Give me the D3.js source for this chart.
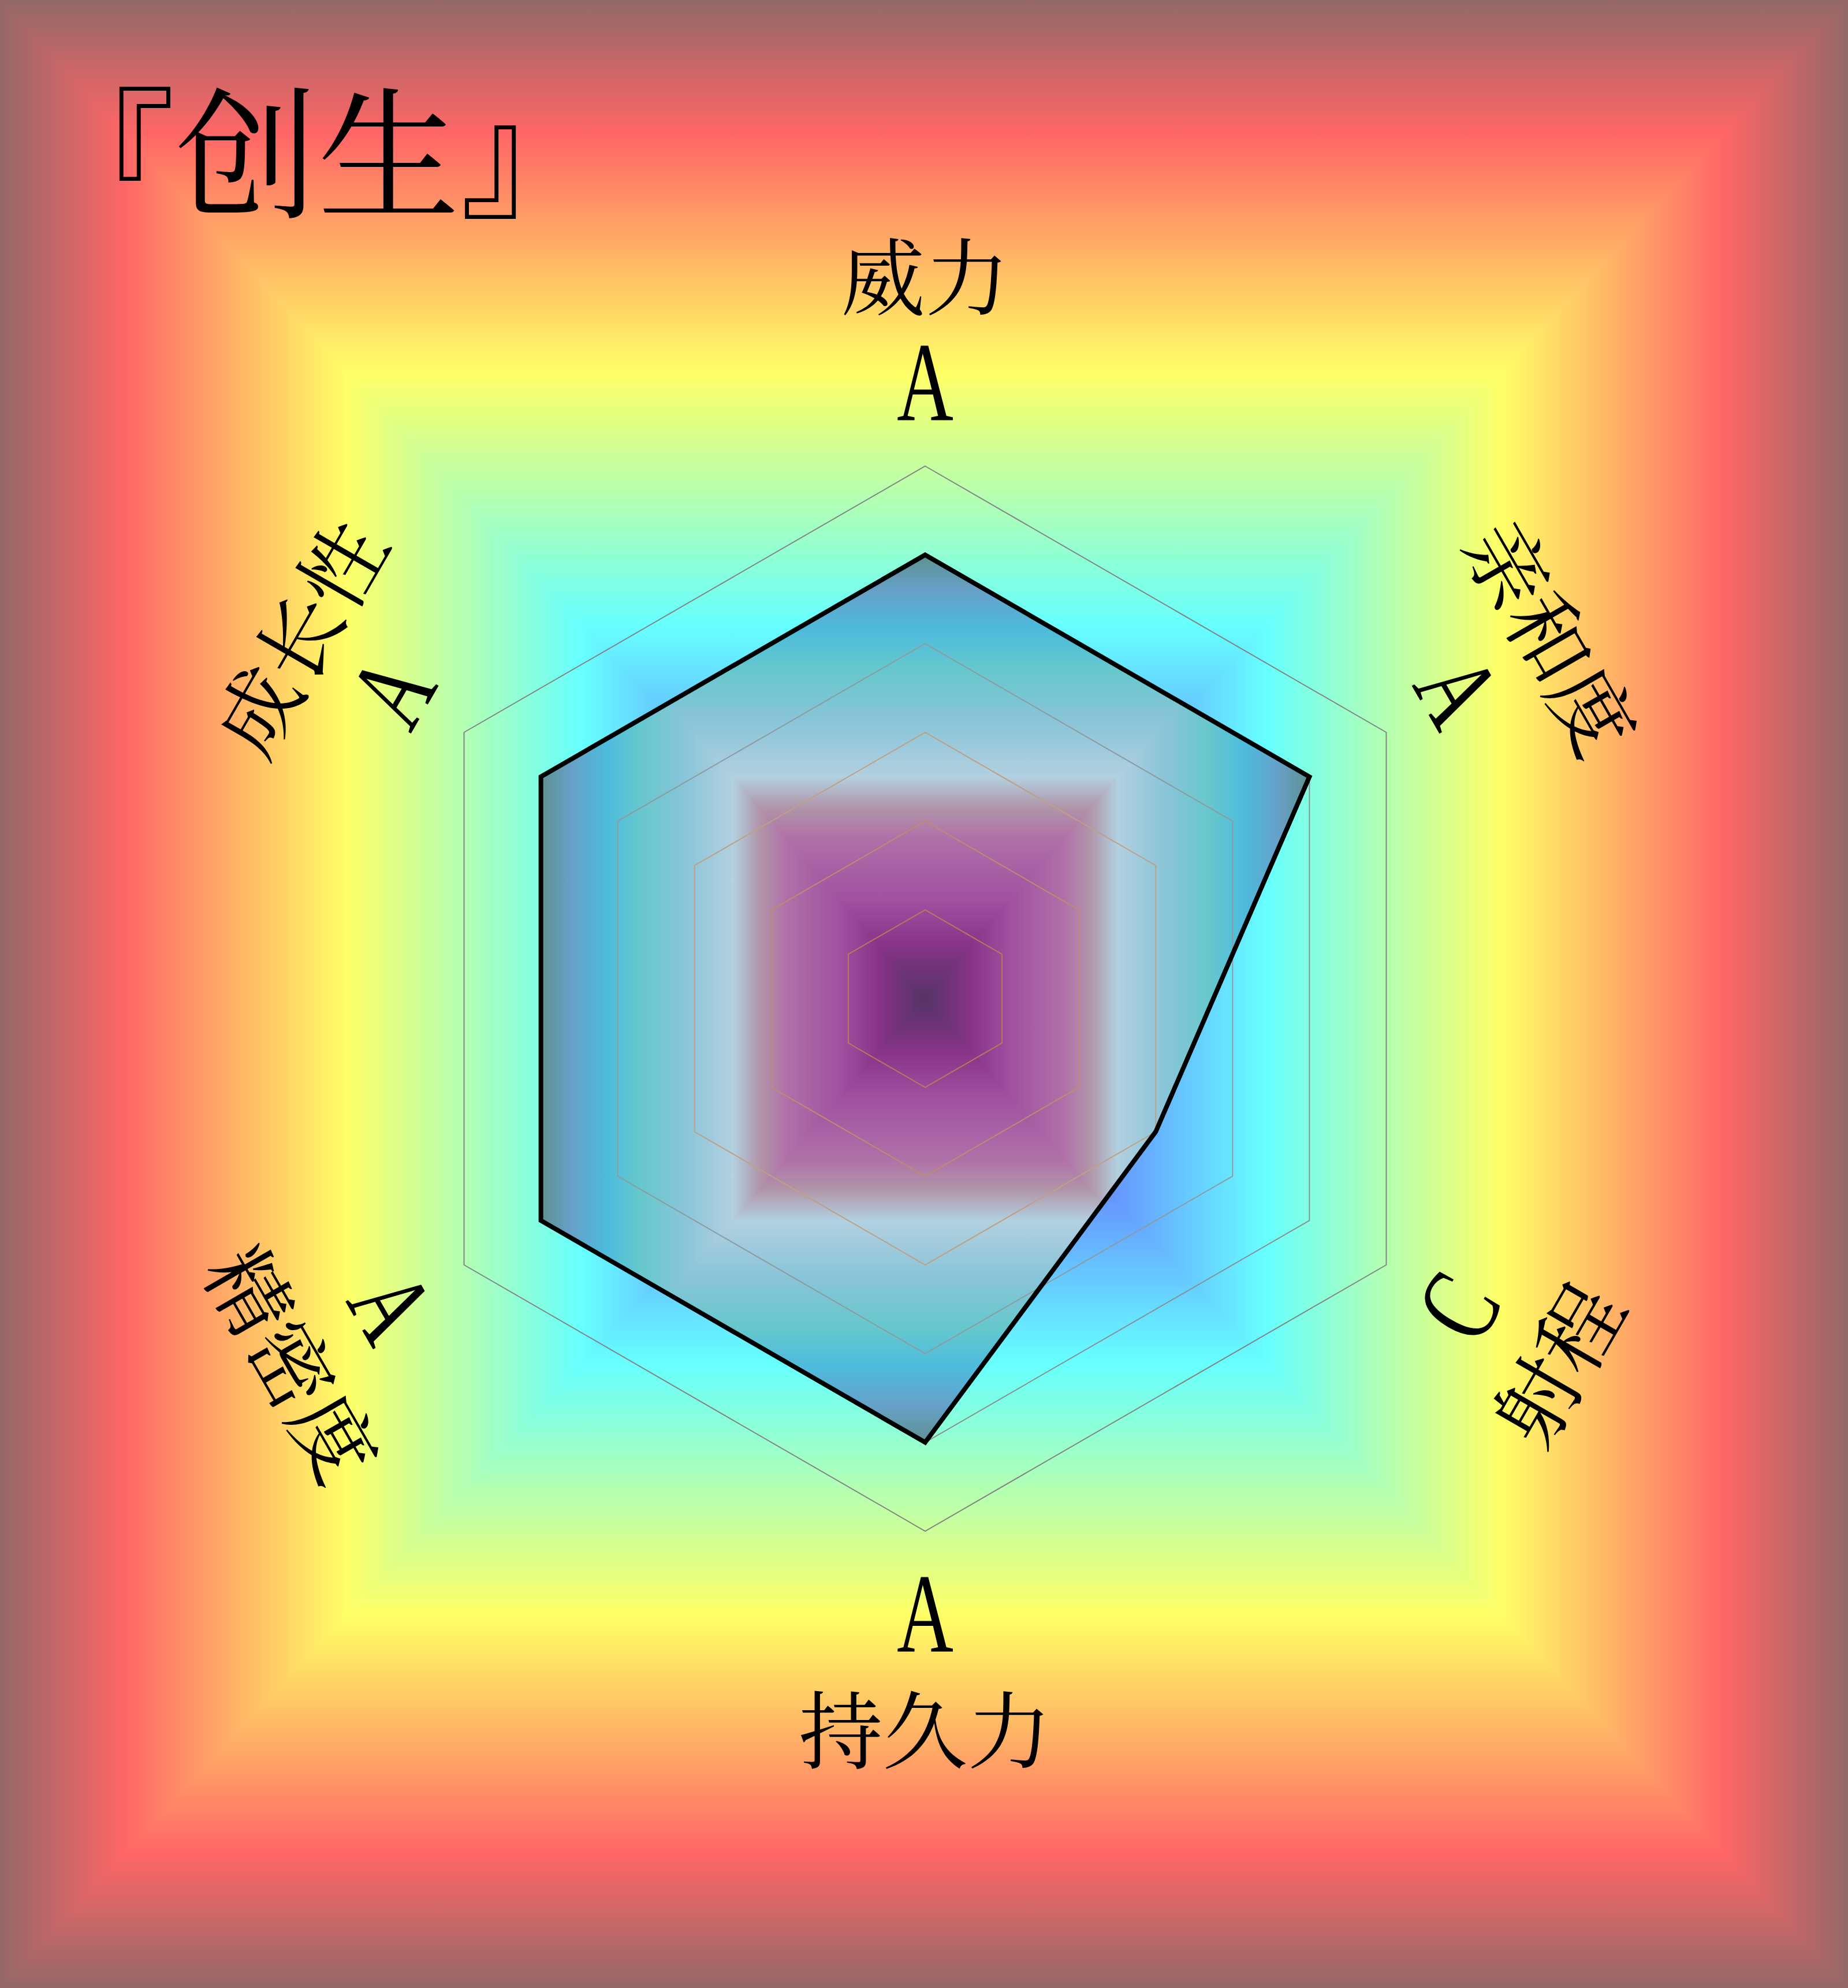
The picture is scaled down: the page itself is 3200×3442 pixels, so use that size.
<!DOCTYPE html>
<html>
<head>
<meta charset="utf-8">
<script src="https://cdn.jsdelivr.net/npm/d3@7"></script>
<style>
  html, body { margin: 0; padding: 0; background: #936868; }
  svg { display: block; }
</style>
</head>
<body>
<svg id="chart"></svg>
<script>
const title = '『创生』';
const axes = ['威力', '亲和度', '射程', '持久力', '精密度', '成长性'];
const grades = ['A', 'A', 'C', 'A', 'A', 'A'];
const gradeNames = ['E', 'D', 'C', 'B', 'A'];   // E = 1 ... A = 5
const levels = [1, 2, 3, 4, 5, 6];

const width = 3200;
const height = 3442;
const cx = 1602;
const cy = 1729;
const outerR = 922;

// square gradient colours, centre -> edge
const pageStops = [
  [0, '#553366'], [0.1, '#883388'], [0.21, '#6699ff'], [0.37, '#66ffff'],
  [0.625, '#ffff66'], [0.865, '#ff6666'], [1, '#936868']
];
const fillStops = [
  [0, '#553366'], [0.12, '#883388'], [0.22, '#a050a0'], [0.36, '#b070a8'],
  [0.43, '#b095a8'], [0.5, '#b2d0e0'], [0.63, '#88c4d8'], [0.74, '#66c8cc'],
  [0.83, '#4dbbdd'], [0.92, '#66a0c8'], [1, '#5f9090']
];

const cjk = '"Noto Serif CJK SC", "AR PL UMing CN", "Noto Sans CJK SC", serif';

const svg = d3.select('#chart')
  .attr('width', width)
  .attr('height', height)
  .attr('viewBox', `0 0 ${width} ${height}`);

const defs = svg.append('defs');

// four triangles, each with a linear gradient from the middle to its edge
function pyramid(parent, id, x0, y0, x1, y1, mx, my, stops) {
  const sides = [
    { pts: [[x0, y0], [x1, y0], [mx, my]], end: [mx, y0] },
    { pts: [[x1, y0], [x1, y1], [mx, my]], end: [x1, my] },
    { pts: [[x1, y1], [x0, y1], [mx, my]], end: [mx, y1] },
    { pts: [[x0, y1], [x0, y0], [mx, my]], end: [x0, my] }
  ];
  sides.forEach((s, i) => {
    const grad = defs.append('linearGradient')
      .attr('id', `${id}-${i}`)
      .attr('gradientUnits', 'userSpaceOnUse')
      .attr('x1', mx).attr('y1', my)
      .attr('x2', s.end[0]).attr('y2', s.end[1]);
    grad.selectAll('stop')
      .data(stops)
      .enter()
      .append('stop')
      .attr('offset', d => d[0])
      .attr('stop-color', d => d[1]);
    parent.append('polygon')
      .attr('points', s.pts.map(p => p.join(',')).join(' '))
      .attr('fill', `url(#${id}-${i})`)
      .attr('stroke', `url(#${id}-${i})`)
      .attr('stroke-width', 1.5);
  });
}

pyramid(svg.append('g'), 'page', 0, 0, width, height, width / 2, height / 2, pageStops);

const angle = d3.scaleLinear().domain([0, axes.length]).range([0, 2 * Math.PI]);
const r = d3.scaleLinear().domain([0, levels.length]).range([0, outerR]);
const gradeValue = g => gradeNames.indexOf(g) + 1;

const point = (i, rad) => [cx + rad * Math.sin(angle(i)), cy - rad * Math.cos(angle(i))];
const hexLine = d3.line().curve(d3.curveLinearClosed);

// data polygon
const pts = grades.map((g, i) => point(i, r(gradeValue(g))));
const [bx0, bx1] = d3.extent(pts, p => p[0]);
const [by0, by1] = d3.extent(pts, p => p[1]);

defs.append('clipPath')
  .attr('id', 'shape-clip')
  .append('path')
  .attr('d', hexLine(pts));

const shape = svg.append('g').attr('clip-path', 'url(#shape-clip)');
pyramid(shape, 'shape', bx0, by0, bx1, by1, (bx0 + bx1) / 2, (by0 + by1) / 2, fillStops);

// grid
const gridColor = d3.scaleLinear()
  .domain([1, 3, 4, 6])
  .range(['#b8785a', '#c0a084', '#8c9ca0', '#858585']);

svg.append('g')
  .selectAll('path')
  .data(levels)
  .enter()
  .append('path')
  .attr('d', l => hexLine(axes.map((a, i) => point(i, r(l)))))
  .attr('fill', 'none')
  .attr('stroke', l => gridColor(l))
  .attr('stroke-width', 2);

svg.append('path')
  .attr('d', hexLine(pts))
  .attr('fill', 'none')
  .attr('stroke', '#000')
  .attr('stroke-width', 8)
  .attr('stroke-linejoin', 'miter');

// labels
function labelRotation(i) {
  let deg = angle(i) * 180 / Math.PI;
  if (deg > 90 && deg < 270) deg -= 180;
  else if (deg >= 270) deg -= 360;
  return deg;
}

const labels = svg.append('g');

labels.selectAll('.axis-name')
  .data(axes)
  .enter()
  .append('text')
  .attr('class', 'axis-name')
  .attr('transform', (d, i) => {
    const p = point(i, 1258);
    return `translate(${p[0]},${p[1]}) rotate(${labelRotation(i)})`;
  })
  .attr('text-anchor', 'middle')
  .attr('dominant-baseline', 'central')
  .style('font-family', cjk)
  .style('font-size', '146px')
  .style('fill', '#000')
  .text(d => d);

labels.selectAll('.grade')
  .data(grades)
  .enter()
  .append('text')
  .attr('class', 'grade')
  .attr('transform', (d, i) => {
    const p = point(i, 1066);
    return `translate(${p[0]},${p[1]}) rotate(${labelRotation(i)}) scale(0.7,1)`;
  })
  .attr('text-anchor', 'middle')
  .attr('dominant-baseline', 'central')
  .style('font-family', '"Liberation Serif", "DejaVu Serif", serif')
  .style('font-size', '194px')
  .style('fill', '#000')
  .text(d => d);

svg.append('text')
  .attr('x', 58)
  .attr('y', 358)
  .style('font-family', cjk)
  .style('font-size', '246px')
  .style('fill', '#000')
  .text(title);
</script>
</body>
</html>
